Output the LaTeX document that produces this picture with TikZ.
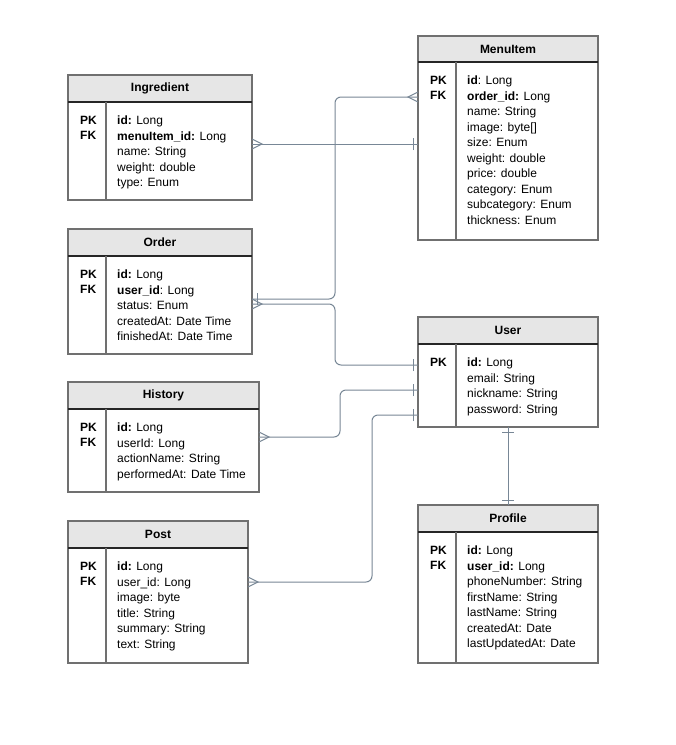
\documentclass[tikz,border=0pt]{standalone}
\usepackage{fontspec}
\setmainfont{Liberation Sans}
\usetikzlibrary{positioning,decorations.markings}

\definecolor{headfill}{RGB}{230,230,230}
\definecolor{framegray}{RGB}{112,112,112}
\definecolor{linkgray}{RGB}{120,135,150}

\newcommand*{\divx}{38pt}

\begin{document}
\begin{tikzpicture}
[
	x=1pt,y=-1pt,
	font=\fontsize{12}{15.5}\selectfont,
	enthead/.style={draw=framegray,fill=headfill,line width=1.5pt,outer sep=0pt,inner sep=0pt,anchor=north west,minimum height=27pt,font=\fontsize{12}{15.5}\selectfont\bfseries},
	entbody/.style={draw=framegray,line width=1.5pt,outer sep=0pt,inner sep=0pt},
	keytext/.style={align=left,inner sep=0pt,font=\fontsize{12}{15.5}\selectfont\bfseries},
	fieldtext/.style={align=left,inner sep=0pt},
	headline/.style={black!85,line width=1.5pt},
	divline/.style={framegray,line width=1.5pt},
	link/.style={linkgray,line width=1pt,rounded corners=6pt},
	crowstart/.style={postaction={decorate,decoration={markings,mark=at position 0 with {\draw[linkgray,line width=1pt,sharp corners] (0,5) -- (10,0) -- (0,-5);}}}},
	crowend/.style={postaction={decorate,decoration={markings,mark=at position 1 with {\draw[linkgray,line width=1pt,sharp corners] (0,5) -- (-10,0) -- (0,-5);}}}},
	barstart/.style={postaction={decorate,decoration={markings,mark=at position 0 with {\draw[linkgray,line width=1pt] (5,6) -- (5,-6);}}}},
	barend/.style={postaction={decorate,decoration={markings,mark=at position 1 with {\draw[linkgray,line width=1pt] (-5,6) -- (-5,-6);}}}}
]

	% page
	\fill[white] (0,0) rectangle (676,745);
	\useasboundingbox (0,0) rectangle (676,745);

	% Ingredient
	\node[enthead,minimum width=184pt] (ingredient) at (68,75) {Ingredient};
	\node[entbody,minimum width=184pt,minimum height=98pt,below=0pt of ingredient] (ingredientbody) {};
	\draw[headline] (ingredient.south west) -- (ingredient.south east);
	\draw[divline] ([xshift=\divx]ingredientbody.north west) -- ([xshift=\divx]ingredientbody.south west);
	\node[keytext,below right=14pt and 12pt of ingredientbody.north west] (ingredientkeys) {PK\\FK};
	\node[fieldtext,below right=14pt and 49pt of ingredientbody.north west] (ingredientfields) {\textbf{id:} Long\\\textbf{menuItem\_id:} Long\\name: String\\weight: double\\type: Enum};

	% MenuItem
	\node[enthead,minimum width=180pt,minimum height=26pt] (menuitem) at (418,36) {MenuItem};
	\node[entbody,minimum width=180pt,minimum height=178pt,below=0pt of menuitem] (menuitembody) {};
	\draw[headline] (menuitem.south west) -- (menuitem.south east);
	\draw[divline] ([xshift=\divx]menuitembody.north west) -- ([xshift=\divx]menuitembody.south west);
	\node[keytext,below right=14pt and 12pt of menuitembody.north west] (menuitemkeys) {PK\\FK};
	\node[fieldtext,below right=14pt and 49pt of menuitembody.north west] (menuitemfields) {\textbf{id}: Long\\\textbf{order\_id:} Long\\name: String\\image: byte[]\\size: Enum\\weight: double\\price: double\\category: Enum\\subcategory: Enum\\thickness: Enum};

	% Order
	\node[enthead,minimum width=184pt] (order) at (68,229) {Order};
	\node[entbody,minimum width=184pt,minimum height=98pt,below=0pt of order] (orderbody) {};
	\draw[headline] (order.south west) -- (order.south east);
	\draw[divline] ([xshift=\divx]orderbody.north west) -- ([xshift=\divx]orderbody.south west);
	\node[keytext,below right=14pt and 12pt of orderbody.north west] (orderkeys) {PK\\FK};
	\node[fieldtext,below right=14pt and 49pt of orderbody.north west] (orderfields) {\textbf{id:} Long\\\textbf{user\_id}: Long\\status: Enum\\createdAt: Date Time\\finishedAt: Date Time};

	% History
	\node[enthead,minimum width=191pt] (history) at (68,382) {History};
	\node[entbody,minimum width=191pt,minimum height=83pt,below=0pt of history] (historybody) {};
	\draw[headline] (history.south west) -- (history.south east);
	\draw[divline] ([xshift=\divx]historybody.north west) -- ([xshift=\divx]historybody.south west);
	\node[keytext,below right=14pt and 12pt of historybody.north west] (historykeys) {PK\\FK};
	\node[fieldtext,below right=14pt and 49pt of historybody.north west] (historyfields) {\textbf{id:} Long\\userId: Long\\actionName: String\\performedAt: Date Time};

	% Post
	\node[enthead,minimum width=180pt] (post) at (68,521) {Post};
	\node[entbody,minimum width=180pt,minimum height=115pt,below=0pt of post] (postbody) {};
	\draw[headline] (post.south west) -- (post.south east);
	\draw[divline] ([xshift=\divx]postbody.north west) -- ([xshift=\divx]postbody.south west);
	\node[keytext,below right=14pt and 12pt of postbody.north west] (postkeys) {PK\\FK};
	\node[fieldtext,below right=14pt and 49pt of postbody.north west] (postfields) {\textbf{id:} Long\\user\_id: Long\\image: byte\\title: String\\summary: String\\text: String};

	% User
	\node[enthead,minimum width=180pt] (user) at (418,317) {User};
	\node[entbody,minimum width=180pt,minimum height=83pt,below=0pt of user] (userbody) {};
	\draw[headline] (user.south west) -- (user.south east);
	\draw[divline] ([xshift=\divx]userbody.north west) -- ([xshift=\divx]userbody.south west);
	\node[keytext,below right=14pt and 12pt of userbody.north west] (userkeys) {PK};
	\node[fieldtext,below right=14pt and 49pt of userbody.north west] (userfields) {\textbf{id:} Long\\email: String\\nickname: String\\password: String};

	% Profile
	\node[enthead,minimum width=180pt] (profile) at (418,505) {Profile};
	\node[entbody,minimum width=180pt,minimum height=131pt,below=0pt of profile] (profilebody) {};
	\draw[headline] (profile.south west) -- (profile.south east);
	\draw[divline] ([xshift=\divx]profilebody.north west) -- ([xshift=\divx]profilebody.south west);
	\node[keytext,below right=14pt and 12pt of profilebody.north west] (profilekeys) {PK\\FK};
	\node[fieldtext,below right=14pt and 49pt of profilebody.north west] (profilefields) {\textbf{id:} Long\\\textbf{user\_id:} Long\\phoneNumber: String\\firstName: String\\lastName: String\\createdAt: Date\\lastUpdatedAt: Date};

	% relations
	\draw[link,crowstart,barend] (ingredientbody.east |- 0,144) -- (menuitembody.west |- 0,144);
	\draw[link,barstart,crowend] (orderbody.east |- 0,299) -| (335,200) |- (menuitembody.west |- 0,97);
	\draw[link,crowstart,barend] (orderbody.east |- 0,304) -| (335,330) |- (userbody.west |- 0,365);
	\draw[link,crowstart,barend] (historybody.east |- 0,437) -| (340,410) |- (userbody.west |- 0,390);
	\draw[link,crowstart,barend] (postbody.east |- 0,582) -| (372,500) |- (userbody.west |- 0,415);
	\draw[link,barstart,barend] (userbody.south) -- (profile.north);

\end{tikzpicture}
\end{document}
